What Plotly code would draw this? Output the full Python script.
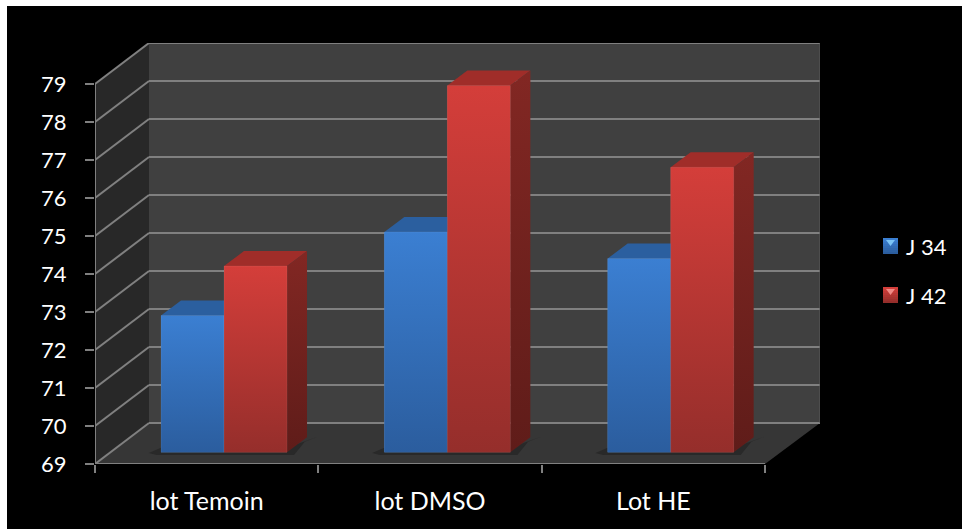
import plotly.graph_objects as go

# ---- data ----
categories = ["lot Temoin", "lot DMSO", "Lot HE"]
series_names = ["J 34", "J 42"]
j34 = [72.6, 74.8, 74.1]
j42 = [73.9, 78.65, 76.5]
y_ticks = list(range(69, 80))

# ---- pseudo-3D geometry, in axis units ----
W, H = 962, 529
X0, X1, Y0, YT = 95, 820, 464, 43      # plot area in px
PX_X = 223.33                          # px per category
PX_Y = 38.0                            # px per value unit
DX, DY = 54 / PX_X, 41 / PX_Y          # wall depth
BX, BY = 20 / PX_X, 15 / PX_Y          # bar depth
FX, FY = 0.0777, 11.7 / PX_Y           # bar offset on floor
BW = 63 / PX_X                         # bar width
Y_MIN = y_ticks[0]
Y_MAX = y_ticks[-1]
xr = (X1 - X0) / PX_X
yr = Y_MIN + (Y0 - YT) / PX_Y
N = len(categories)
GRID = "#808080"

COL = {
    0: dict(bar="#3570b8", front=["#3b7fd2", "#2b5d9e"], side=["#2a5a98", "#1f4474"], top="#2b5f9f"),
    1: dict(bar="#b53532", front=["#d43e3a", "#952e2b"], side=["#822723", "#5f1c19"], top="#a02d29"),
}

def paper_x(px):
    return (px - X0) / (X1 - X0)

def paper_y(py):
    return (Y0 - py) / (Y0 - YT)

shapes = [
    dict(type="rect", xref="paper", yref="paper", x0=paper_x(7), x1=paper_x(W), y0=paper_y(H), y1=paper_y(6),
         fillcolor="#000000", line_width=0, layer="below"),
]

def poly(xs, ys, fill, layer="below"):
    path = "M" + "L".join(f"{x},{y}" for x, y in zip(xs, ys)) + "Z"
    shapes.append(dict(type="path", xref="x", yref="y", path=path, fillcolor=fill, line_width=0, layer=layer))

def seg(x0, y0, x1, y1, width=2, color=GRID):
    shapes.append(dict(type="line", xref="x", yref="y", x0=x0, y0=y0, x1=x1, y1=y1,
                       line=dict(color=color, width=width), layer="below"))

# walls and floor
poly([0, DX, DX, 0], [Y_MIN, Y_MIN + DY, Y_MAX + DY, Y_MAX], "#282828")
poly([DX, xr, xr, DX], [Y_MIN + DY, Y_MIN + DY, Y_MAX + DY, Y_MAX + DY], "#404040")
poly([0, DX, xr, N], [Y_MIN, Y_MIN + DY, Y_MIN + DY, Y_MIN], "#363636")

# floor shadows
base = Y_MIN + FY
for i in range(N):
    l = i + 0.5 + FX - BW
    r = i + 0.5 + FX + BW
    poly([l - 0.055, l, r, r + BX + 0.05, r + BX - 0.01, r + BX * 0.35, l - 0.02],
         [base - 0.02, base + 0.12, base + 0.12, base + BY + 0.02, base + BY - 0.12, base - 0.07, base - 0.07],
         "#292929")

# gridlines on the walls
for t in y_ticks:
    seg(0, t, DX, t + DY)
    seg(DX, t + DY, xr, t + DY)
seg(0, Y_MIN, 0, Y_MAX)
seg(0, Y_MIN, N, Y_MIN)
seg(xr, Y_MIN + DY, xr, Y_MAX + DY, width=1, color="#5a5a5a")

fig = go.Figure()

# real bars (front faces)
for s, (name, vals) in enumerate(zip(series_names, [j34, j42])):
    xs = [i + 0.5 + FX + (s - 0.5) * BW for i in range(N)]
    fig.add_trace(go.Bar(
        x=xs, y=[v - Y_MIN for v in vals], base=base, width=BW, name=name,
        marker=dict(color=COL[s]["bar"], line_width=0), showlegend=False, hoverinfo="skip"))

def face(xs, ys, line=None, **kw):
    fig.add_trace(go.Scatter(x=xs + xs[:1], y=ys + ys[:1], mode="lines", line=line or dict(width=0),
                             fill="toself", showlegend=False, hoverinfo="skip", **kw))

def grad(c):
    return dict(type="vertical", colorscale=[[0, c[1]], [1, c[0]]])

for i in range(N):
    for s, vals in enumerate([j34, j42]):
        c = COL[s]
        l = i + 0.5 + FX + (s - 1) * BW
        r = l + BW
        top = vals[i] + FY
        face([l, l + BX, r + BX, r], [top, top + BY, top + BY, top], fillcolor=c["top"])
        face([r, r + BX, r + BX, r], [base, base + BY, top + BY, top], fillgradient=grad(c["side"]))
        face([l, r, r, l], [base, base, top, top], fillgradient=grad(c["front"]),
             line=dict(width=1, color="rgba(255,255,255,0.07)"))

# legend swatches and labels
annotations = []
for s, (name, py) in enumerate(zip(series_names, [246, 295])):
    c = COL[s]
    x0, x1 = paper_x(883), paper_x(898)
    bands = 8
    for b in range(bands):
        f = b / (bands - 1)
        a, d = c["front"]
        mix = [round(int(a[k:k + 2], 16) * (1 - f) + int(d[k:k + 2], 16) * f) for k in (1, 3, 5)]
        shapes.append(dict(type="rect", xref="paper", yref="paper", x0=x0, x1=x1,
                           y0=paper_y(py - 8 + 2 * b + 2), y1=paper_y(py - 8 + 2 * b),
                           fillcolor="rgb(%d,%d,%d)" % tuple(mix), line_width=0, layer="above"))
    light = "#7cc4f5" if s == 0 else "#f08a85"
    shapes.append(dict(type="path", xref="paper", yref="paper", layer="above", line_width=0, fillcolor=light,
                       path=f"M{paper_x(886)},{paper_y(py - 6)}L{paper_x(895)},{paper_y(py - 6)}L{paper_x(890.5)},{paper_y(py)}Z"))
    annotations.append(dict(xref="paper", yref="paper", x=paper_x(904), y=paper_y(py), text=name, showarrow=False,
                            xanchor="left", yanchor="middle", font=dict(size=22, color="white", family="Lato")))

fig.update_layout(
    width=W, height=H, showlegend=False, barmode="overlay",
    margin=dict(l=X0, r=W - X1, t=YT, b=H - Y0, pad=0, autoexpand=False),
    paper_bgcolor="#ffffff", plot_bgcolor="rgba(0,0,0,0)",
    font=dict(family="Lato", color="white", size=21),
    shapes=shapes, annotations=annotations,
    xaxis=dict(range=[0, xr], showgrid=False, zeroline=False, showline=False,
               tickmode="array", tickvals=[i + 0.5 for i in range(N)], ticktext=categories,
               ticks="outside", ticklen=15, tickcolor="rgba(0,0,0,0)",
               tickfont=dict(size=25, color="white", family="Lato"),
               minor=dict(tickmode="array", tickvals=list(range(N + 1)), ticks="outside",
                          ticklen=8, tickwidth=2, tickcolor=GRID)),
    yaxis=dict(range=[Y_MIN, yr], showgrid=False, zeroline=False, showline=False,
               tickmode="array", tickvals=y_ticks, ticktext=[str(t) for t in y_ticks],
               ticks="outside", ticklen=9, tickwidth=2, tickcolor=GRID, ticklabelstandoff=14,
               tickfont=dict(size=22, color="white", family="Lato")),
)

fig.write_html("out.html", config=dict(displayModeBar=False),
               post_script="document.body.style.margin='0';document.body.style.overflow='hidden';")
